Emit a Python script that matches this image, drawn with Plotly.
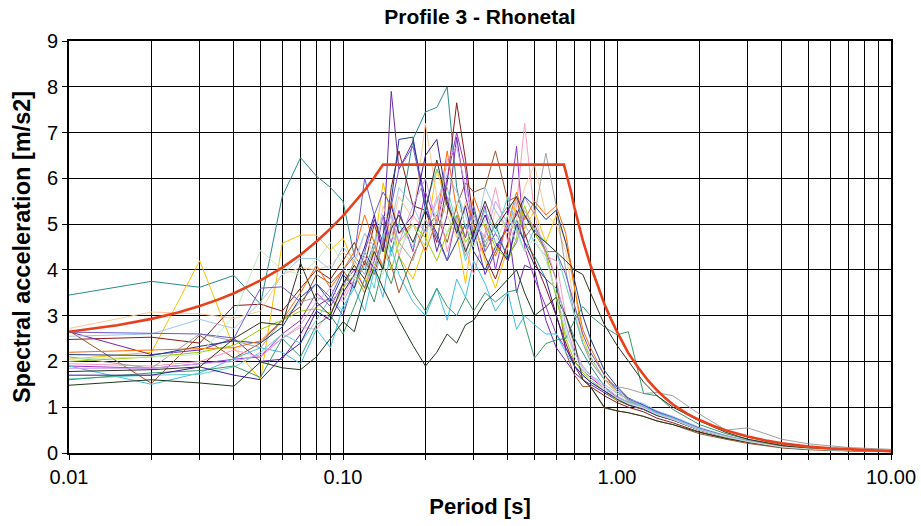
import plotly.graph_objects as go

# ---------------- data ----------------
periods = [0.01, 0.02, 0.03, 0.04, 0.05, 0.06, 0.07, 0.08, 0.09, 0.10,
           0.11, 0.12, 0.13, 0.14, 0.15, 0.16, 0.18, 0.20, 0.22, 0.24,
           0.26, 0.28, 0.30, 0.33, 0.36, 0.40, 0.43, 0.46, 0.50, 0.55,
           0.60, 0.65, 0.70, 0.75, 0.80, 0.90, 1.00, 1.10, 1.25, 1.40,
           1.60, 2.00, 2.50, 3.00, 4.00, 5.00, 7.00, 10.0]

teal = [3.45, 3.75, 3.62, 3.88, 3.25, 5.60, 6.45, 6.05, 5.80, 5.50,
        4.30, 4.00, 4.60, 5.20, 4.40, 5.00, 6.85, 7.45, 7.55, 8.00,
        5.80, 4.90, 5.30, 4.50, 5.00, 4.20, 5.10, 4.60, 4.30, 3.80,
        3.60, 3.00, 2.50, 2.20, 1.90, 1.45, 1.20, 1.05, 0.95, 0.82,
        0.72, 0.50, 0.36, 0.26, 0.14, 0.09, 0.055, 0.035]
gold = [2.05, 2.20, 4.20, 2.30, 1.60, 4.58, 4.76, 4.76, 4.43, 4.70,
        4.10, 3.60, 4.50, 5.90, 5.20, 4.30, 3.80, 4.60, 6.20, 5.40,
        4.80, 3.70, 5.00, 4.20, 3.60, 4.50, 5.60, 4.90, 5.30, 4.60,
        5.20, 4.60, 3.60, 2.50, 2.10, 1.60, 1.35, 1.15, 1.00, 0.86,
        0.76, 0.54, 0.38, 0.27, 0.14, 0.095, 0.06, 0.04]
maroon = [2.48, 2.53, 2.40, 3.22, 3.25, 3.10, 3.60, 4.00, 3.80, 4.20,
          4.60, 4.10, 5.00, 4.40, 5.80, 6.60, 5.40, 5.30, 4.60, 5.90,
          7.65, 6.40, 5.00, 4.30, 3.80, 4.60, 5.30, 4.80, 4.20, 3.60,
          3.00, 2.40, 1.90, 1.60, 1.45, 1.25, 1.10, 1.00, 0.90, 0.76,
          0.66, 0.46, 0.32, 0.23, 0.12, 0.08, 0.05, 0.03]
sienna = [2.67, 1.52, 2.57, 2.07, 2.40, 2.90, 3.20, 3.90, 3.70, 4.00,
          3.60, 4.20, 3.90, 4.60, 4.10, 3.50, 4.30, 4.90, 5.20, 4.60,
          5.40, 5.90, 5.70, 5.80, 6.60, 5.50, 5.60, 4.70, 5.00, 4.40,
          3.80, 2.20, 1.70, 1.45, 1.45, 0.98, 0.92, 0.88, 0.80, 0.70,
          0.62, 0.42, 0.30, 0.21, 0.11, 0.07, 0.045, 0.03]
purple = [2.65, 2.15, 2.25, 2.50, 2.00, 2.05, 2.60, 3.20, 3.40, 3.00,
          3.80, 4.40, 5.10, 4.60, 7.90, 6.20, 6.80, 5.50, 4.40, 5.20,
          6.90, 5.60, 4.90, 3.90, 4.40, 5.00, 3.50, 4.10, 4.00, 2.90,
          2.30, 2.00, 1.75, 1.60, 1.50, 1.30, 1.15, 1.05, 0.95, 0.82,
          0.72, 0.50, 0.35, 0.25, 0.13, 0.09, 0.05, 0.035]
violet = [1.90, 1.85, 1.95, 2.05, 2.10, 2.60, 2.90, 3.50, 3.20, 3.70,
          4.00, 3.60, 4.20, 5.20, 4.60, 5.30, 4.40, 5.70, 5.00, 6.00,
          7.00, 6.20, 4.60, 5.40, 4.00, 5.20, 6.70, 4.50, 3.80, 3.20,
          2.60, 2.30, 2.00, 1.80, 1.65, 1.40, 1.22, 1.10, 1.02, 0.88,
          0.76, 0.52, 0.36, 0.26, 0.13, 0.09, 0.055, 0.035]
pink = [1.95, 1.90, 2.00, 2.25, 2.10, 2.50, 2.75, 2.70, 3.10, 3.40,
        3.90, 3.50, 4.40, 4.00, 4.90, 4.30, 5.20, 4.80, 5.60, 4.40,
        5.10, 4.50, 3.90, 4.80, 5.80, 4.60, 5.40, 7.20, 5.20, 4.30,
        4.20, 3.00, 2.30, 1.90, 1.70, 1.40, 1.20, 1.08, 0.98, 0.84,
        0.73, 0.50, 0.35, 0.25, 0.13, 0.09, 0.055, 0.035]
peach = [2.72, 3.08, 3.04, 2.94, 3.10, 3.90, 4.05, 4.00, 4.10, 4.40,
         4.10, 4.80, 4.30, 5.40, 4.90, 5.60, 5.10, 7.20, 5.60, 5.20,
         4.70, 5.50, 4.90, 4.40, 5.30, 4.80, 5.10, 5.80, 6.30, 5.20,
         5.00, 4.40, 3.20, 2.40, 2.00, 1.60, 1.30, 1.12, 1.00, 0.86,
         0.76, 0.53, 0.37, 0.27, 0.14, 0.095, 0.06, 0.04]
grey = [2.10, 1.85, 2.60, 2.45, 2.30, 2.90, 3.30, 3.40, 3.30, 3.60,
        4.20, 3.90, 4.50, 4.10, 5.00, 4.60, 4.20, 5.10, 4.70, 5.60,
        4.90, 4.30, 5.20, 4.60, 5.00, 5.40, 4.80, 5.60, 5.20, 6.55,
        5.40, 4.00, 3.00, 2.40, 2.00, 1.60, 1.45, 1.40, 1.30, 1.32,
        1.25, 0.85, 0.50, 0.55, 0.30, 0.20, 0.12, 0.08]
navy = [2.15, 2.13, 2.33, 2.45, 2.40, 2.75, 3.40, 3.70, 3.30, 3.90,
        3.60, 4.40, 4.00, 4.80, 5.50, 6.85, 6.90, 5.30, 4.80, 4.20,
        4.60, 5.00, 4.40, 4.00, 4.50, 4.90, 5.20, 5.60, 5.40, 5.10,
        5.30, 4.60, 3.80, 3.00, 2.50, 1.80, 1.45, 1.20, 1.05, 0.90,
        0.78, 0.54, 0.37, 0.26, 0.14, 0.09, 0.055, 0.035]
orange = [2.20, 2.25, 2.27, 2.30, 2.45, 2.90, 3.50, 4.10, 3.60, 4.00,
          4.40, 5.20, 4.60, 4.00, 5.50, 4.80, 5.00, 4.40, 5.10, 6.60,
          5.30, 4.70, 5.60, 4.90, 4.30, 5.00, 5.70, 5.10, 5.50, 5.20,
          5.40, 4.80, 3.60, 2.70, 2.30, 1.70, 1.35, 1.15, 1.02, 0.88,
          0.76, 0.53, 0.37, 0.27, 0.14, 0.09, 0.055, 0.035]
lightblue = [2.55, 2.60, 2.92, 2.72, 3.30, 3.90, 4.25, 4.25, 4.00, 4.50,
             4.20, 4.80, 4.50, 5.20, 5.00, 5.80, 5.40, 4.80, 5.50, 6.10,
             5.70, 5.20, 4.60, 5.80, 5.30, 4.90, 5.60, 5.00, 4.60, 4.30,
             3.40, 2.60, 2.20, 1.90, 1.70, 1.50, 1.30, 1.18, 1.08, 0.92,
             0.80, 0.56, 0.38, 0.27, 0.14, 0.09, 0.055, 0.035]
slate = [2.64, 2.62, 2.60, 2.51, 3.60, 3.63, 3.30, 3.70, 3.40, 4.00,
         4.30, 6.00, 5.20, 5.70, 5.40, 6.20, 6.70, 5.40, 4.70, 4.20,
         5.20, 4.70, 5.40, 4.40, 4.80, 4.30, 4.60, 5.20, 4.90, 4.40,
         4.40, 3.90, 3.20, 2.60, 2.20, 1.70, 1.40, 1.18, 1.04, 0.90,
         0.78, 0.54, 0.37, 0.26, 0.135, 0.09, 0.055, 0.035]
lime = [2.00, 2.10, 2.20, 2.35, 2.70, 2.90, 3.10, 3.15, 3.05, 3.60,
        3.90, 3.50, 4.10, 4.50, 4.00, 4.60, 5.00, 4.70, 4.20, 4.80,
        5.20, 4.60, 4.90, 5.00, 4.50, 4.20, 4.70, 5.40, 4.80, 4.40,
        3.40, 2.50, 2.00, 1.75, 1.60, 1.35, 1.15, 1.05, 0.95, 0.82,
        0.72, 0.50, 0.35, 0.25, 0.13, 0.085, 0.05, 0.03]
cyan = [1.90, 1.50, 1.75, 2.05, 2.30, 2.20, 1.95, 2.70, 2.30, 3.20,
        3.60, 3.10, 4.00, 3.40, 4.50, 3.90, 3.30, 3.00, 3.60, 2.90,
        3.80, 3.40, 4.20, 3.70, 3.10, 3.50, 2.70, 3.00, 2.80, 2.60,
        2.60, 2.20, 1.90, 1.70, 1.55, 1.35, 1.20, 1.12, 1.02, 0.88,
        0.77, 0.53, 0.36, 0.26, 0.13, 0.09, 0.055, 0.035]
turquoise = [1.62, 1.70, 1.72, 1.88, 2.20, 2.60, 2.40, 2.90, 3.40, 3.10,
             3.70, 4.10, 3.60, 4.80, 4.30, 5.00, 4.50, 5.40, 6.20, 5.80,
             5.00, 4.20, 4.70, 5.30, 4.80, 5.60, 4.90, 4.40, 4.90, 4.60,
             4.40, 3.70, 3.00, 2.40, 2.10, 1.60, 1.35, 1.15, 1.02, 0.86,
             0.75, 0.52, 0.36, 0.26, 0.135, 0.09, 0.055, 0.035]
green = [1.60, 1.75, 1.80, 1.90, 1.65, 2.50, 2.10, 2.80, 3.00, 2.60,
         3.20, 3.80, 3.30, 4.10, 3.70, 4.30, 3.50, 3.10, 3.60, 3.20,
         3.00, 3.40, 3.10, 3.50, 3.30, 3.52, 3.56, 2.83, 2.07, 2.39,
         2.47, 2.50, 2.90, 3.20, 3.00, 2.75, 2.58, 2.65, 1.30, 1.25,
         0.95, 0.62, 0.42, 0.30, 0.17, 0.11, 0.065, 0.04]
darkgreen = [1.48, 1.60, 1.53, 1.46, 1.99, 1.86, 1.82, 2.10, 2.50, 2.87,
             2.65, 3.50, 4.05, 3.60, 3.25, 2.90, 2.35, 1.90, 2.20, 2.60,
             2.40, 2.80, 2.90, 3.30, 3.50, 3.80, 4.00, 3.50, 3.00, 3.20,
             3.40, 3.00, 2.40, 1.60, 1.45, 1.00, 0.92, 0.88, 0.80, 0.70,
             0.62, 0.45, 0.32, 0.24, 0.13, 0.09, 0.055, 0.035]
indigo = [1.70, 1.70, 1.88, 1.70, 1.60, 2.10, 2.40, 3.10, 2.90, 3.50,
          3.90, 4.50, 5.20, 4.40, 5.40, 4.80, 5.20, 6.50, 6.85, 5.50,
          4.80, 5.40, 4.60, 5.20, 4.60, 4.20, 5.00, 4.60, 4.10, 3.80,
          3.00, 2.30, 1.90, 1.70, 1.55, 1.35, 1.18, 1.05, 0.96, 0.82,
          0.72, 0.50, 0.35, 0.25, 0.13, 0.09, 0.055, 0.035]
lavender = [1.85, 1.85, 1.95, 2.00, 2.15, 2.50, 2.80, 3.30, 3.60, 3.30,
            3.80, 4.30, 4.00, 4.70, 5.20, 4.60, 5.40, 6.00, 5.00, 6.40,
            6.70, 5.80, 5.10, 4.70, 5.50, 5.00, 4.60, 5.30, 4.90, 4.50,
            3.80, 2.80, 2.20, 1.85, 1.70, 1.45, 1.25, 1.10, 1.00, 0.86,
            0.75, 0.52, 0.36, 0.26, 0.135, 0.09, 0.055, 0.035]
olive = [1.78, 1.82, 1.88, 2.50, 2.85, 2.80, 4.15, 3.30, 3.00, 3.70,
         4.10, 3.80, 4.40, 4.00, 4.90, 5.20, 4.60, 5.30, 6.40, 5.40,
         5.00, 4.40, 4.80, 5.50, 4.90, 5.30, 5.60, 5.20, 4.80, 4.60,
         4.40, 4.20, 4.00, 3.90, 3.50, 2.80, 2.35, 2.00, 1.55, 1.25,
         1.00, 0.70, 0.45, 0.30, 0.16, 0.10, 0.06, 0.04]
palegreen = [2.05, 2.10, 2.15, 3.00, 4.43, 4.00, 3.90, 4.20, 4.60, 4.10,
             3.80, 4.40, 4.10, 3.90, 4.80, 4.40, 5.00, 4.50, 5.30, 4.80,
             5.50, 5.00, 4.50, 5.10, 4.60, 5.20, 4.80, 4.40, 4.70, 4.20,
             3.50, 2.70, 2.10, 1.80, 1.60, 1.40, 1.20, 1.08, 0.98, 0.84,
             0.73, 0.50, 0.35, 0.25, 0.13, 0.09, 0.055, 0.035]

design_periods = [0.01, 0.015, 0.02, 0.025, 0.03, 0.035, 0.04, 0.045, 0.05, 0.06,
                  0.07, 0.08, 0.09, 0.10, 0.11, 0.12, 0.13, 0.14, 0.64, 0.66,
                  0.68, 0.70, 0.75, 0.80, 0.85, 0.90, 0.95, 1.00, 1.10, 1.20,
                  1.30, 1.40, 1.50, 1.60, 1.80, 2.00, 2.25, 2.50, 3.00, 3.50,
                  4.00, 5.00, 6.00, 8.00, 10.0]
design_values = [2.65, 2.79, 2.93, 3.07, 3.21, 3.35, 3.49, 3.63, 3.77, 4.05,
                 4.33, 4.62, 4.90, 5.18, 5.46, 5.74, 6.02, 6.30, 6.30, 6.02,
                 5.70, 5.35, 4.65, 4.10, 3.65, 3.25, 2.93, 2.65, 2.18, 1.85,
                 1.58, 1.37, 1.20, 1.06, 0.86, 0.72, 0.59, 0.49, 0.36, 0.27,
                 0.21, 0.14, 0.10, 0.06, 0.04]

series = [
    (teal, "#2a8a8a"), (gold, "#ffc000"), (maroon, "#8b1a1a"), (sienna, "#a0522d"),
    (purple, "#6a2aa8"), (violet, "#9933cc"), (pink, "#ff99bb"), (peach, "#ffc896"),
    (grey, "#a0a0a0"), (navy, "#1f3a93"), (orange, "#ff6a00"), (lightblue, "#9ec5f0"),
    (slate, "#6a5acd"), (lime, "#99cc00"), (cyan, "#3cc0e8"), (turquoise, "#66d0d0"),
    (green, "#3a9a6a"), (darkgreen, "#1e3a1e"), (indigo, "#3a1a9a"), (lavender, "#c8a0f0"),
    (olive, "#333322"), (palegreen, "#c0ecc0"),
]

decade_ticks = [0.01, 0.1, 1, 10]
decade_labels = ["0.01", "0.10", "1.00", "10.00"]

for vals, _c in series:
    if len(vals) != len(periods):
        raise ValueError("length mismatch %d" % len(vals))
if len(design_values) != len(design_periods):
    raise ValueError("design length mismatch")

# ---------------- figure ----------------
fig = go.Figure()
for vals, col in series:
    fig.add_trace(go.Scatter(x=periods, y=vals, mode="lines",
                             line=dict(color=col, width=1), showlegend=False,
                             hoverinfo="skip"))
fig.add_trace(go.Scatter(x=design_periods, y=design_values, mode="lines",
                         line=dict(color="#e8401c", width=2.6), showlegend=False,
                         hoverinfo="skip"))

tickvals = []
ticktext = []
for i, d in enumerate(decade_ticks[:-1]):
    for k in range(1, 10):
        tickvals.append(d * k)
        ticktext.append(decade_labels[i] if k == 1 else "")
tickvals.append(decade_ticks[-1])
ticktext.append(decade_labels[-1])

font_family = "Liberation Sans, Arial, Helvetica, sans-serif"
fig.update_layout(
    width=921, height=526,
    margin=dict(l=69, r=30, t=41, b=73),
    paper_bgcolor="white", plot_bgcolor="white",
    font=dict(family=font_family, color="black"),
    title=dict(text="<b>Profile 3 - Rhonetal</b>", x=0.5, xref="paper",
               xanchor="center", y=0.969, yanchor="middle",
               font=dict(size=21, family=font_family, color="black")),
)
fig.update_xaxes(
    type="log", range=[-2, 1], automargin=False,
    tickvals=tickvals, ticktext=ticktext,
    showgrid=True, gridcolor="black", gridwidth=1,
    showline=True, linecolor="black", linewidth=2, mirror=True,
    ticks="outside", ticklen=5, tickcolor="black", tickwidth=1,
    tickfont=dict(size=20, family=font_family, color="black"),
    title=dict(text="<b>Period [s]</b>", standoff=12,
               font=dict(size=22, family=font_family, color="black")),
    zeroline=False,
)
fig.update_yaxes(
    range=[0, 9], dtick=1, tick0=0, automargin=False,
    showgrid=True, gridcolor="black", gridwidth=1,
    showline=True, linecolor="black", linewidth=2, mirror=True,
    ticks="outside", ticklen=5, tickcolor="black", tickwidth=1,
    tickfont=dict(size=20, family=font_family, color="black"),
    title=dict(text="<b>Spectral acceleration [m/s2]</b>", standoff=10,
               font=dict(size=23.5, family=font_family, color="black")),
    zeroline=False,
)

fig.write_html("out.html", config={"displayModeBar": False},
               post_script="document.body.style.margin='0';document.body.style.overflow='hidden';")
